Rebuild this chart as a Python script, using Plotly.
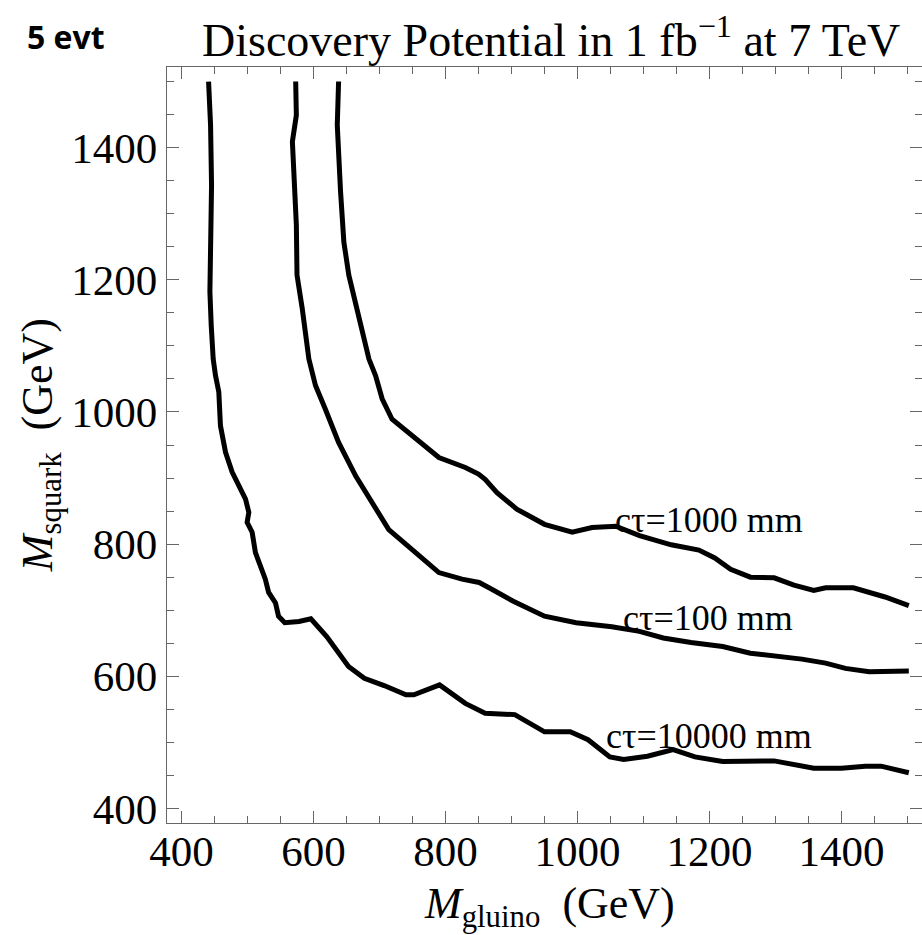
import plotly.graph_objects as go

# Discovery contours (5 events, 1 fb^-1, 7 TeV) in the gluino/squark mass plane
gluino_ct10000 = [441, 444, 445.5, 444, 443, 445, 448, 451.5, 456.5, 459, 466.7, 476.7, 497, 502,
                  499.4, 507, 512, 527, 532, 542.4, 547, 556.5, 578, 596, 620, 653, 677, 707, 740,
                  752, 791, 830, 860, 905, 950, 989, 1016, 1049, 1070, 1106, 1145, 1178, 1220,
                  1298, 1358, 1400, 1436, 1460, 1502]
squark_ct10000 = [1500, 1434, 1343, 1283, 1182, 1131, 1080, 1055, 1030, 979, 939, 909, 868, 848,
                  833, 818, 787, 747, 727, 711, 691, 681, 683, 687, 660, 615, 597, 586, 572,
                  572, 587, 559, 544, 542, 516, 516, 504, 478, 474, 479, 489, 478, 471,
                  472, 461, 461, 464, 464, 454]

gluino_ct100 = [573, 574, 568, 570, 574, 575, 583, 593, 603, 618, 638, 664, 689, 714, 749, 790,
                825, 851, 866, 902, 950, 998, 1052, 1094, 1130, 1172, 1220, 1262, 1340, 1376,
                1406, 1442, 1502]
squark_ct100 = [1500, 1449, 1409, 1358, 1283, 1207, 1156, 1080, 1040, 1004, 954, 903, 863, 822,
                792, 757, 747, 742, 734, 714, 691, 681, 675, 668, 658, 651, 645, 635, 626, 620,
                612, 607, 608]

gluino_ct1000 = [638, 636, 641, 646, 653.5, 668.6, 684, 694, 704, 719, 749, 790, 830, 850, 860,
                 878, 908, 950, 992, 1022, 1058, 1094, 1142, 1184, 1208, 1232, 1262, 1298, 1328,
                 1358, 1376, 1418, 1466, 1502]
squark_ct1000 = [1500, 1434, 1333, 1257, 1207, 1141, 1080, 1055, 1020, 989, 964, 931, 916, 906,
                 898, 878, 853, 830, 818, 825, 827, 813, 799, 791, 779, 762, 750, 749, 738, 730,
                 734, 734, 720, 707]

# contour labels: text and anchor position (GeV, GeV)
label_texts = ["cτ=1000 mm", "cτ=100 mm", "cτ=10000 mm"]
label_x = [1199, 1197, 1199]
label_y = [837, 688, 509]

tick_vals = [400, 600, 800, 1000, 1200, 1400]
tick_text = ["400", "600", "800", "1000", "1200", "1400"]

SERIF = "Liberation Serif, Times New Roman, serif"
AXIS_GREY = "#666666"

fig = go.Figure()
for gx, sy in [(gluino_ct10000, squark_ct10000),
               (gluino_ct100, squark_ct100),
               (gluino_ct1000, squark_ct1000)]:
    fig.add_trace(go.Scatter(x=gx, y=sy, mode="lines",
                             line=dict(color="black", width=5),
                             showlegend=False, hoverinfo="skip"))

for t, lx, ly in zip(label_texts, label_x, label_y):
    fig.add_annotation(x=lx, y=ly, xref="x", yref="y", text=t, showarrow=False,
                       xanchor="center", yanchor="middle",
                       font=dict(family=SERIF, size=36, color="black"))

axis_common = dict(
    tickvals=tick_vals, ticktext=tick_text,
    ticks="inside", ticklen=12, tickwidth=1.3, tickcolor=AXIS_GREY,
    showline=True, linecolor=AXIS_GREY, linewidth=1.3, mirror="ticks",
    showgrid=False, zeroline=False,
    tickfont=dict(family=SERIF, size=43, color="black"),
    minor=dict(ticks="inside", ticklen=7, tickwidth=1.3, tickcolor=AXIS_GREY,
               dtick=50, tick0=400, showgrid=False),
)

fig.update_xaxes(range=[378, 1522], ticklabelstandoff=-10, **axis_common)
fig.update_yaxes(range=[378, 1522], **axis_common)

# axis titles
fig.add_annotation(xref="paper", yref="paper", x=0.507, y=-0.11,
                   xanchor="center", yanchor="middle",
                   text="<i>M</i><sub>gluino</sub>  (GeV)", showarrow=False,
                   font=dict(family=SERIF, size=44, color="black"))
fig.add_annotation(xref="paper", yref="paper", x=-0.168, y=0.5, textangle=-90,
                   xanchor="center", yanchor="middle",
                   text="<i>M</i><sub>squark</sub>  (GeV)", showarrow=False,
                   font=dict(family=SERIF, size=44, color="black"))

# header
fig.add_annotation(xref="paper", yref="paper", x=-0.134, y=1.04,
                   xanchor="center", yanchor="middle",
                   text="<b>5 evt</b>", showarrow=False,
                   font=dict(family="Liberation Sans Narrow, Open Sans, sans-serif",
                             size=32, color="black"))
fig.add_annotation(xref="paper", yref="paper", x=0.509, y=1.04,
                   xanchor="center", yanchor="middle",
                   text="Discovery Potential in 1 fb<sup>−1</sup> at 7 TeV", showarrow=False,
                   font=dict(family=SERIF, size=46, color="black"))

fig.update_layout(
    width=922, height=935,
    margin=dict(l=167, r=0, t=67, b=112),
    paper_bgcolor="white", plot_bgcolor="white",
)

fig.write_html("out.html")
